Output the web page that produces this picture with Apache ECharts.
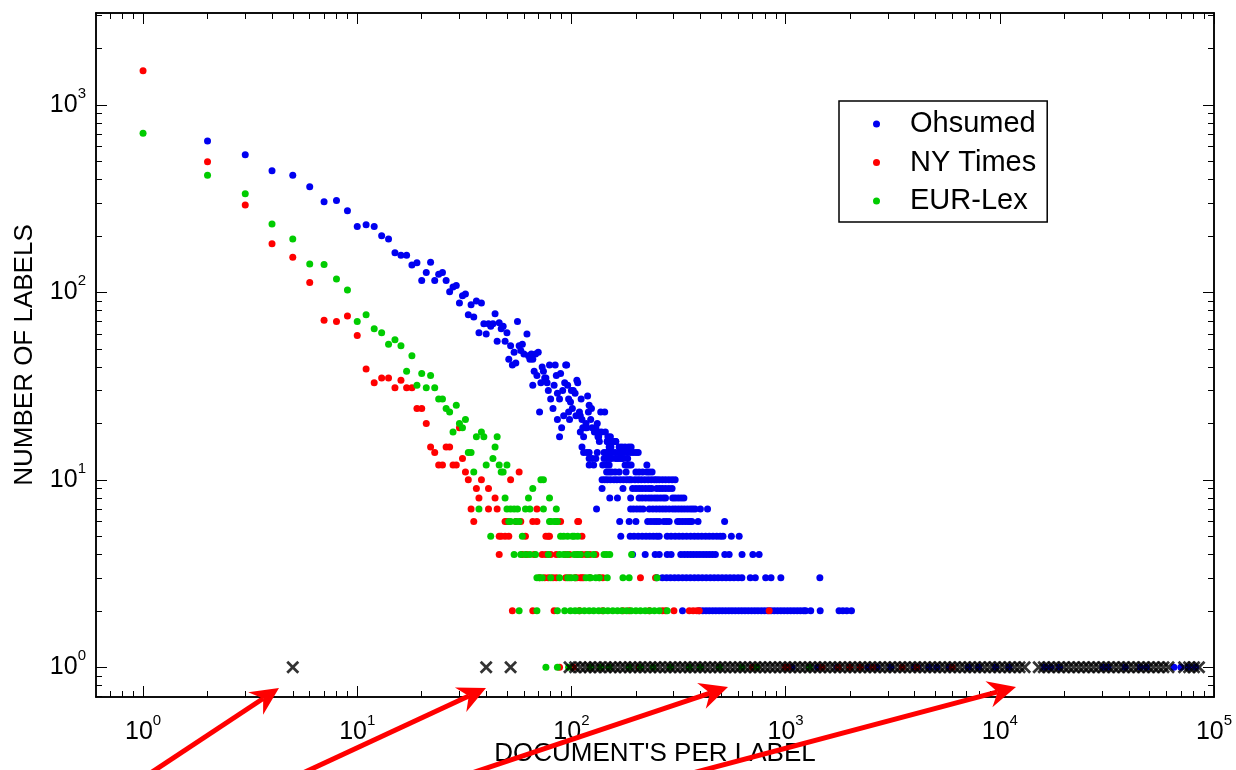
<!DOCTYPE html>
<html><head><meta charset="utf-8">
<script src="https://cdn.jsdelivr.net/npm/echarts@6/dist/echarts.min.js"></script>
<style>html,body{margin:0;padding:0;background:#fff;}#chart{width:1236px;height:770px;}</style>
</head><body><div id="chart"></div>
<script>
// ---------------- DATA ----------------
const seriesNames = ['Ohsumed', 'NY Times', 'EUR-Lex'];
const xTitle = "DOCUMENT'S PER LABEL";
const yTitle = 'NUMBER OF LABELS';
const xMajorTicks = [1, 10, 100, 1000, 10000, 100000];
const yMajorTicks = [1, 10, 100, 1000];
const xMinorTicks = [0.7, 0.8, 0.9, 2, 3, 4, 5, 6, 7, 8, 9, 20, 30, 40, 50, 60, 70, 80, 90,
  200, 300, 400, 500, 600, 700, 800, 900, 2000, 3000, 4000, 5000, 6000, 7000, 8000, 9000,
  20000, 30000, 40000, 50000, 60000, 70000, 80000, 90000];
const yMinorTicks = [0.7, 0.8, 0.9, 2, 3, 4, 5, 6, 7, 8, 9, 20, 30, 40, 50, 60, 70, 80, 90,
  200, 300, 400, 500, 600, 700, 800, 900, 2000, 3000];

// Ohsumed: scattered part [documents per label, number of labels]
const ohsumedPoints = [[2,643],[3,543],[4,446],[5,422],[6,367],[7,305],[8,310],[9,273],[10,225],[11,230],
  [12,225],[13,201],[14,193],[15,163],[16,158],[17,158],[18,140],[19,144],[20,116],[21,128],[22,145],
  [23,116],[24,125],[25,128],[26,116],[27,101],[28,107],[29,109],[30,88],[31,96],[32,98],[33,76],[34,86],
  [35,74],[36,90],[37,61],[38,88],[39,68],[40,60],[41,68],[42,66],[43,68],[44,77],[45,55],[46,69],[47,64],
  [48,66],[49,55],[50,61],[51,44],[52,52],[53,41],[54,48],[55,42],[56,70],[57,52],[58,49],[59,53],[60,47],
  [62,60],[63,46],[64,44],[65,47],[66,44],[66,32],[67,38],[68,47],[69,36],[70,48],[71,23],[72,33],[73,40],
  [74,38],[75,35],[76,35],[77,33],[78,30],[79,41],[80,27],[82,24],[83,32],[84,41],[85,36],[86,29],[86,21],
  [88,27],[88,17],[89,37],[90,19],[91,30],[92,22],[93,33],[94,41],[95,41],[96,32],[97,27],[97,23],[98,21],
  [99,26],[100,30],[101,24],[102,30],[104,29],[105,22],[106,34],[107,33],[109,23],[110,22],[110,18],[111,27],
  [112,21],[113,19],[114,17],[116,19],[117,20],[118,19],[119,28],[120,23],[121,25],[123,21],[124,24],[125,19],
  [128,18],[130,19],[132,20],[133,17],[134,18],[134,17],[137,23],[138,18],[143,23],[144,18],[147,16],[148,17],
  [152,17],[161,16]];
// Ohsumed: rows of equal label counts
const ohsumedRowLevels = [16, 15, 14, 13, 12, 11, 10, 9, 8, 7, 6, 5, 4, 3, 2, 1];
const ohsumedRowDocs = [
  [135,147,152,158,161],
  [112,150,153,167,172,178,185,190],
  [114,118,121,132,142,146,150,155,160,167,172,177,182,188,194,200,205],
  [121,125,130,142,146,150,154,161,165,170,174,183],
  [121,127,140,146,150,178,182,186,190,225],
  [146,150,154,160,167,180,200,207,215,225,231,238],
  [139,143,147,152,158,163,169,175,181,186,190,198,205,212,220,228,236,244,250,257,266,275,285,295,305],
  [139,174,193,200,207,214,222,230,237,250,258,266,275,285,295],
  [151,164,189,207,214,222,230,237,245,252,260,268,275,297,305,315,325,335],
  [131,189,195,202,209,216,231,240,249,258,267,276,286,297,306,316,326,336,347,358,368,378,400,432],
  [168,186,200,227,235,243,250,257,270,278,286,313,320,330,340,350,358,365,390,519],
  [170,188,196,205,214,223,232,241,250,257,280,292,305,318,331,345,360,375,390,406,423,440,458,477,495,510,558,607],
  [193,221,246,257,280,292,324,336,348,360,372,385,398,412,426,440,455,470,520,545,626,703,752],
  [250,266,278,290,303,316,330,344,359,375,391,408,426,445,464,484,505,527,550,574,600,625,684,722,807,855,950,1445],
  [330,395,410,425,440,456,472,489,506,524,543,562,582,603,624,646,669,693,718,743,770,797,825,855,885,917,950,
   984,1020,1056,1094,1133,1173,1215,1240,1310,1450,1776,1850,1930,2030],
  [1071,1412,1740,2427,2675,3100,4000,4140,4660,5090,5800,7130,7960,9560,11020,16200,17300,19000,30300,32000,
   38500,45300,48400,65000,70000,76000,82000]
];

// NY Times
const nytPoints = [[1,1527],[2,499],[3,293],[4,182],[5,154],[6,113],[7,71],[8,70],[9,75],[10,59],[11,39],
  [12,33],[13,35],[14,35],[15,31],[16,34],[17,31],[18,31],[19,24],[20,24],[21,20],[22,15],[23,14],[26,15],
  [27,15],[30,19],[31,13]];
const nytRowLevels = [12, 11, 10, 9, 8, 7, 6, 5, 4, 3, 2, 1];
const nytRowDocs = [
  [24,25,28,29],
  [32,57],
  [33,38,52],
  [36,41],
  [37,44],
  [34,41,45,69],
  [35,49,50,55,58,66,69,89,107,108],
  [46,47,49,51,61,76,78,79,112],
  [46,59,62,67,73,76,80,85,94,98,106,112,117,122,130],
  [71,75,78,82,85,94,98,104,106,110,112,114,122,135,140,210,247],
  [53,66,83,109,140,174,186,231,266,275,301,355,370,385,395,838],
  [88,102,123,137,207,700,735,1000,1025,1480,1760,1990,2230,2550,3500,4100,6000]
];

// EUR-Lex
const eurPoints = [[1,707],[2,422],[3,336],[4,232],[5,193],[6,142],[7,141],[8,118],[9,103],[10,70],[11,76],
  [12,64],[13,61],[14,53],[15,56],[16,52],[17,38],[18,46],[19,32],[20,37],[21,31],[22,36],[23,31],[24,27],
  [25,27],[26,24],[27,23],[28,18],[29,25],[30,20],[31,19],[32,21],[33,14],[34,14],[36,17],[38,18],[39,17],
  [43,13],[44,15],[45,17]];
const eurRowLevels = [12, 11, 10, 9, 8, 7, 6, 5, 4, 3, 2, 1];
const eurRowDocs = [
  [40,46,50],
  [35,47,48],
  [72,74],
  [66],
  [49,63,79],
  [37,50,52,54,56,61,64,74,85],
  [51,52,55,57,79,80,83,85,86],
  [42,59,89,92,96,101,103,107],
  [54,58,61,64,68,78,88,92,96,103,107,110,119,127,142,146,151,191],
  [69,71,73,80,88,96,100,104,117,121,123,130,135,147,174,186,251],
  [57,69,86,93,99,104,109,115,121,127,134,141,148,156,164,172,181,190,200,210,221,232,244,257,280],
  [76,86,97,123,137,150,186,210,240,290,355,400,490,625,735,1290]
];

// black crosses (all at one label)
const crossLevel = 1;
const crossDocs = [5,40,52,98,104,110,116,122,129,136,144,152,160,169,178,188,198,209,221,233,246,259,274,289,
  305,322,339,358,378,399,421,444,469,494,522,551,581,613,647,682,720,760,802,846,892,942,993,1048,1106,1167,
  1232,1300,1371,1447,1527,1611,1700,1793,1892,1997,2107,2223,2345,2475,2611,2755,2907,3067,3236,3415,3603,
  3802,4011,4232,4466,4712,4971,5246,5535,5840,6162,6501,6860,7238,7637,8058,8502,8971,9465,9987,10537,11118,
  11731,12377,13060,15200,16040,16920,17850,18840,19880,20970,22130,23350,24630,25990,27420,28930,30530,32210,
  33990,35860,37840,39920,42120,44440,46890,49480,52200,55080,58110,61320,72500,76500,80700,85100];

// ---------------- BUILD ----------------
function buildSeriesData(points, levels, rows) {
  const out = points.map(p => [p[0], p[1]]);
  levels.forEach((lv, i) => rows[i].forEach(x => out.push([x, lv])));
  return out;
}
const ohsumedData = buildSeriesData(ohsumedPoints, ohsumedRowLevels, ohsumedRowDocs);
const nytData = buildSeriesData(nytPoints, nytRowLevels, nytRowDocs);
const eurData = buildSeriesData(eurPoints, eurRowLevels, eurRowDocs);
const crossData = crossDocs.map(x => [x, crossLevel]);

const FONT = '"Liberation Sans", Arial, Helvetica, sans-serif';
const X_MIN = 0.603, X_MAX = 100001, Y_MIN = 0.694, Y_MAX = 3100;
const AXIS_LINE = { show: true, lineStyle: { color: '#000', width: 1.5 } };
const TICK_STYLE = { color: '#000', width: 1 };

function powLabel(v) {
  const e = Math.round(Math.log10(v));
  return '{b|10}{s|' + e + '}';
}
const labelRich = {
  b: { fontSize: 25, lineHeight: 38, fontFamily: FONT, color: '#000' },
  s: { fontSize: 15, lineHeight: 14, fontFamily: FONT, color: '#000', verticalAlign: 'top' }
};

function makeAxis(position, min, max, ticks, tickLen, label, extra) {
  const a = {
    type: 'log', position: position, min: min, max: max,
    axisLine: AXIS_LINE,
    axisTick: { show: true, inside: true, length: tickLen, customValues: ticks, lineStyle: TICK_STYLE },
    splitLine: { show: false },
    minorTick: { show: false },
    axisLabel: { show: false },
    axisPointer: { show: false }
  };
  if (label) {
    a.axisLabel = {
      show: true, customValues: ticks, formatter: powLabel, rich: labelRich,
      showMinLabel: true, showMaxLabel: true, hideOverlap: false
    };
  }
  return Object.assign(a, extra || {});
}

const xAxes = [
  makeAxis('bottom', X_MIN, X_MAX, xMajorTicks, 11, true, {
    name: xTitle, nameLocation: 'middle', nameGap: 44, nameMoveOverlap: false,
    nameTextStyle: { fontSize: 26, fontFamily: FONT, color: '#000' }
  }),
  makeAxis('bottom', X_MIN, X_MAX, xMinorTicks, 6, false),
  makeAxis('top', X_MIN, X_MAX, xMajorTicks, 11, false),
  makeAxis('top', X_MIN, X_MAX, xMinorTicks, 6, false)
];
xAxes[0].axisLabel.margin = 16;
const yAxes = [
  makeAxis('left', Y_MIN, Y_MAX, yMajorTicks, 11, true, {
    name: yTitle, nameLocation: 'middle', nameGap: 58, nameRotate: 90, nameMoveOverlap: false,
    nameTextStyle: { fontSize: 26, fontFamily: FONT, color: '#000' }
  }),
  makeAxis('left', Y_MIN, Y_MAX, yMinorTicks, 6, false),
  makeAxis('right', Y_MIN, Y_MAX, yMajorTicks, 11, false),
  makeAxis('right', Y_MIN, Y_MAX, yMinorTicks, 6, false)
];
yAxes[0].axisLabel.margin = 10;

function scatter(name, data, color) {
  return {
    name: name, type: 'scatter', data: data, symbol: 'circle', symbolSize: 7,
    xAxisIndex: 0, yAxisIndex: 0,
    itemStyle: { color: color, opacity: 1 },
    emphasis: { disabled: true }, silent: true
  };
}
const crossPath = 'path://M0,1.5L1.5,0L5,3.5L8.5,0L10,1.5L6.5,5L10,8.5L8.5,10L5,6.5L1.5,10L0,8.5L3.5,5Z';

// red annotation arrows (pixel layout, tail -> tip)
const arrowLayout = [
  [[140, 780], [279, 688]],
  [[290, 779], [486, 688]],
  [[454, 779], [728, 687]],
  [[640, 787], [1016, 687]]
];
const graphics = [];
arrowLayout.forEach(function (a) {
  const t = a[0], p = a[1];
  const dx = p[0] - t[0], dy = p[1] - t[1];
  const L = Math.sqrt(dx * dx + dy * dy);
  const ux = dx / L, uy = dy / L, nx = -uy, ny = ux;
  const headLen = 28, halfW = 13.5, notch = 19;
  const bx = p[0] - ux * notch, by = p[1] - uy * notch;
  graphics.push({
    type: 'line', silent: true, z: 100,
    shape: { x1: t[0], y1: t[1], x2: bx, y2: by },
    style: { stroke: '#FF0000', lineWidth: 5 }
  });
  graphics.push({
    type: 'polygon', silent: true, z: 101,
    shape: { points: [
      [p[0], p[1]],
      [p[0] - ux * headLen + nx * halfW, p[1] - uy * headLen + ny * halfW],
      [bx, by],
      [p[0] - ux * headLen - nx * halfW, p[1] - uy * headLen - ny * halfW]
    ] },
    style: { fill: '#FF0000' }
  });
});

const option = {
  backgroundColor: '#fff',
  animation: false,
  textStyle: { fontFamily: FONT },
  grid: { left: 96, right: 22, top: 13, bottom: 73, containLabel: false, outerBoundsMode: 'none' },
  legend: {
    data: seriesNames, orient: 'vertical', left: 839, top: 101,
    padding: [8, 11, 6, 34], itemGap: 8.5, itemWidth: 7, itemHeight: 7, icon: 'circle',
    borderColor: '#000', borderWidth: 1.5, backgroundColor: '#fff', borderRadius: 0,
    textStyle: { fontSize: 29, lineHeight: 30, fontFamily: FONT, color: '#000', padding: [0, 0, 0, 25] },
    selectedMode: false
  },
  xAxis: xAxes,
  yAxis: yAxes,
  series: [
    scatter(seriesNames[0], ohsumedData, '#0000F0'),
    scatter(seriesNames[1], nytData, '#FF0000'),
    scatter(seriesNames[2], eurData, '#00CC00'),
    {
      name: 'crosses', type: 'scatter', data: crossData, symbol: crossPath, symbolSize: 13,
      xAxisIndex: 0, yAxisIndex: 0, itemStyle: { color: '#000' }, emphasis: { disabled: true }, silent: true
    }
  ],
  graphic: graphics
};
const chart = echarts.init(document.getElementById('chart'), null, { renderer: 'canvas' });
chart.setOption(option);
</script></body></html>
